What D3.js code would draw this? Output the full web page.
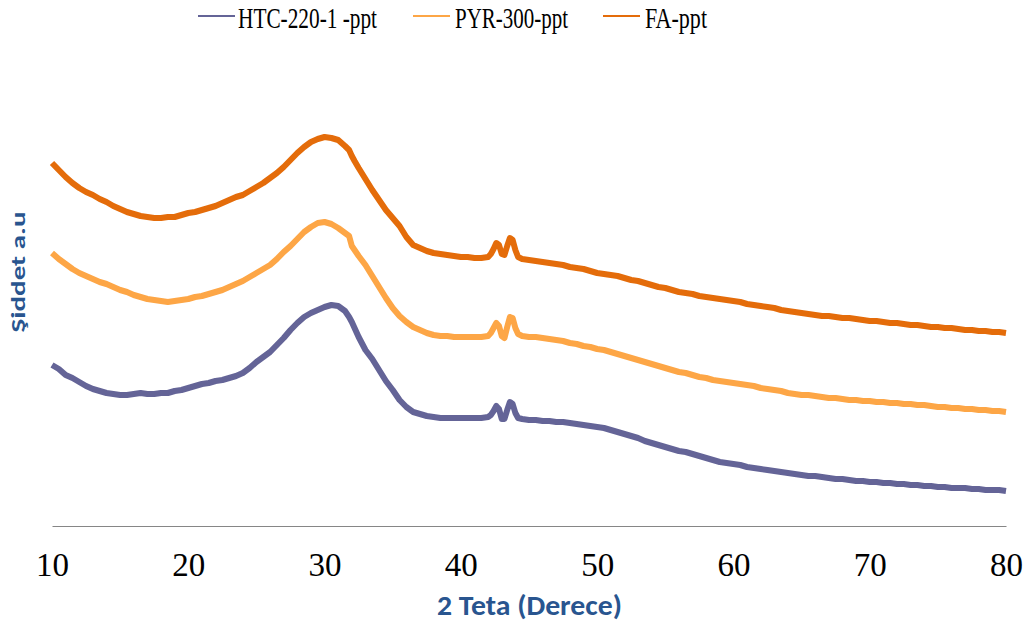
<!DOCTYPE html>
<html><head><meta charset="utf-8">
<script src="https://cdn.jsdelivr.net/npm/d3@7/dist/d3.min.js"></script>
<style>body{margin:0;background:#fff}svg{display:block}</style>
</head><body>
<svg id="chart" width="1025" height="628"></svg>
<script>
// 2θ grid (degrees)
const twoTheta = [
 10,10.5,11,11.5,12,12.5,13,13.5,14,14.5,
 15,15.5,16,16.5,17,17.5,18,18.5,19,19.5,
 20,20.5,21,21.5,22,22.5,23,23.5,24,24.5,
 25,25.5,26,26.5,27,27.5,28,28.5,29,29.5,
 30,30.5,31,31.5,31.8,32,32.2,
 32.5,33,33.5,34,34.5,35,35.5,36,36.5,37,
 37.5,38,38.5,39,39.5,40,40.5,41,41.5,42,
 42.2,42.4,42.6,42.8,43,43.2,43.4,43.6,43.8,44,44.2,
 44.5,45,45.5,46,46.5,47,47.5,48,48.5,49,
 49.5,50,50.5,51,51.5,52,52.5,53,53.5,54,
 54.5,55,55.5,56,56.5,57,57.5,58,58.5,59,
 59.5,60,60.5,61,61.5,62,62.5,63,63.5,64,
 64.5,65,65.5,66,66.5,67,67.5,68,68.5,69,
 69.5,70,70.5,71,71.5,72,72.5,73,73.5,74,
 74.5,75,75.5,76,76.5,77,77.5,78,78.5,79,
 79.5,80];

// intensities (a.u., stacked as in the figure)
const htcIntensity = [
 158,154,148,145,141,137,134,132,130,129,
 128,128,129,130,129,129,130,130,132,133,
 135,137,139,140,142,143,145,147,150,155,
 161,166,171,178,185,193,200,206,210,213,
 216,218,217,212,206,201,195,
 186,173,164,153,142,133,123,116,111,109,
 107,106,105,105,105,105,105,105,105,106,
 108,112,117,114,104,104,113,121,119,110,105,
 104,103,103,102,102,101,101,100,99,98,
 97,96,95,93,91,89,87,85,82,80,
 78,76,74,72,71,69,67,65,63,61,
 60,59,58,56,55,54,53,52,51,50,
 49,48,47,47,46,45,44,44,43,42,
 42,41,41,40,40,39,39,38,38,37,
 37,36,36,35,35,35,34,34,33,33,
 33,32];

const pyrIntensity = [
 270,264,259,254,250,247,244,241,239,236,
 233,231,228,226,224,223,222,221,222,223,
 224,226,227,229,231,233,236,239,242,246,
 250,254,258,264,271,277,284,291,296,300,
 301,299,295,290,287,277,273,
 267,258,247,236,225,215,207,201,196,193,
 190,188,187,187,186,186,186,186,186,187,
 190,195,200,197,187,185,196,206,205,195,189,
 187,186,186,185,184,183,182,180,179,177,
 176,174,173,171,169,167,165,163,161,159,
 157,155,153,151,150,148,146,145,143,142,
 141,140,139,138,137,135,134,133,132,130,
 129,128,128,127,126,125,125,124,123,123,
 122,122,121,121,120,120,119,119,118,118,
 117,116,116,115,115,114,114,113,113,112,
 112,111];

const faIntensity = [
 360,353,346,340,335,331,328,324,321,317,
 314,311,309,307,306,305,305,306,306,308,
 310,311,313,315,317,320,323,326,328,332,
 336,340,345,350,356,363,370,376,381,384,
 386,385,383,377,373,367,362,
 355,344,333,323,313,305,297,286,278,275,
 272,270,269,268,267,266,266,265,265,266,
 269,274,280,278,269,268,277,285,283,273,266,
 264,263,262,261,260,259,258,256,255,254,
 252,250,249,248,247,245,243,242,240,238,
 236,235,233,231,230,229,227,226,225,224,
 223,222,221,219,218,217,216,215,213,212,
 211,210,209,208,207,207,206,205,205,204,
 203,202,202,201,200,200,199,198,198,197,
 196,196,195,195,194,193,193,192,192,191,
 191,190];

const seriesNames = ["HTC-220-1 -ppt", "PYR-300-ppt", "FA-ppt"];
const seriesColors = ["#646497", "#FDA646", "#E46C0A"];
const xTickValues = [10, 20, 30, 40, 50, 60, 70, 80];

const series = [htcIntensity, pyrIntensity, faIntensity].map((vals, i) => ({
  name: seriesNames[i], color: seriesColors[i],
  points: twoTheta.slice(0, Math.min(twoTheta.length, vals.length)).map((t, j) => [t, vals[j]])
}));

const svg = d3.select("#chart");
const x = d3.scaleLinear().domain([10, 80]).range([52, 1006]);
const y = d3.scaleLinear().domain([-3, 500]).range([526, 23]);

// x axis
const xAxis = svg.append("g").attr("transform", `translate(0,${y.range()[0]})`)
  .call(d3.axisBottom(x).tickValues(xTickValues).tickSize(0).tickFormat(d3.format("d")));
xAxis.select(".domain").attr("stroke", "#868686").attr("stroke-width", 1.2);
xAxis.selectAll("text").attr("y", 50).attr("dy", 0)
  .attr("font-family", "'Liberation Serif','Times New Roman',serif")
  .attr("font-size", 33).attr("fill", "#000");

// lines
const line = d3.line().x(d => x(d[0])).y(d => y(d[1])).curve(d3.curveLinear);
svg.append("g").selectAll("path").data(series).join("path")
  .attr("d", d => line(d.points))
  .attr("fill", "none").attr("stroke", d => d.color)
  .attr("stroke-width", 6).attr("stroke-linejoin", "round").attr("stroke-linecap", "butt");

// legend
const legendLayout = [
  {x1: 198, x2: 235, tx: 238, w: 139},
  {x1: 413, x2: 450, tx: 455, w: 113},
  {x1: 603, x2: 640, tx: 645, w: 62}
];
const lg = svg.append("g");
series.forEach((s, i) => {
  const L = legendLayout[i];
  lg.append("line").attr("x1", L.x1).attr("x2", L.x2).attr("y1", 16).attr("y2", 16)
    .attr("stroke", s.color).attr("stroke-width", 2.2);
  lg.append("text").attr("x", L.tx).attr("y", 28)
    .attr("font-family", "'Liberation Serif','Times New Roman',serif")
    .attr("font-size", 30).attr("fill", "#000")
    .attr("textLength", L.w).attr("lengthAdjust", "spacingAndGlyphs")
    .text(s.name);
});

// axis titles
svg.append("text").attr("x", 529.5).attr("y", 615).attr("text-anchor", "middle")
  .attr("font-family", "Carlito, Calibri, Lato, sans-serif").attr("font-weight", "bold")
  .attr("font-size", 28).attr("fill", "#29558F")
  .attr("textLength", 185).attr("lengthAdjust", "spacingAndGlyphs")
  .text("2 Teta (Derece)");

svg.append("text").attr("transform", "translate(25,272) rotate(-90)")
  .attr("text-anchor", "middle")
  .attr("font-family", "Carlito, Calibri, Lato, sans-serif").attr("font-weight", "bold")
  .attr("font-size", 21).attr("fill", "#29558F")
  .attr("textLength", 121).attr("lengthAdjust", "spacingAndGlyphs")
  .text("Şiddet a.u");
</script>
</body></html>
